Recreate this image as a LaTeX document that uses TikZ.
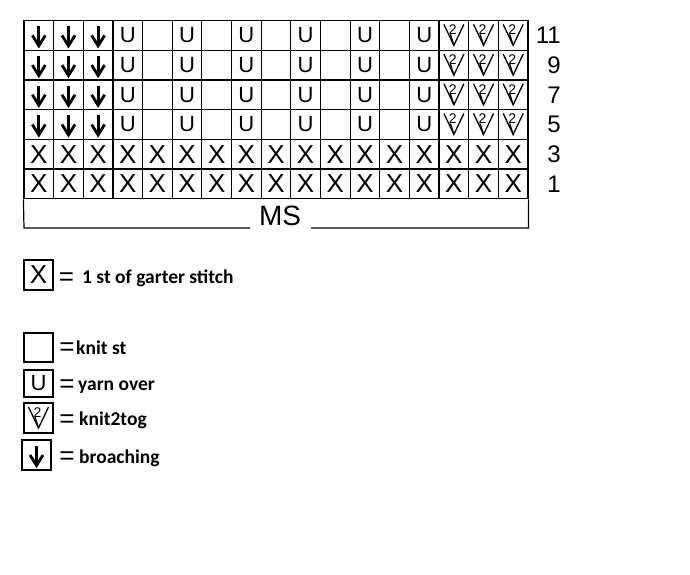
\documentclass[tikz,border=0pt]{standalone}
\usepackage{fontspec}
\setmainfont{Liberation Sans}
\newfontfamily\legendfont{Carlito}

\tikzset{
  cell/.style={draw, line width=1.2pt, minimum width=29.65pt, minimum height=29.7pt, inner sep=0pt},
  garter/.style={font=\fontsize{26}{26}\selectfont},
  yarnover/.style={font=\fontsize{22}{22}\selectfont},
  rowno/.style={anchor=east, inner sep=0pt, font=\fontsize{24}{24}\selectfont},
  eqsign/.style={inner sep=0pt, font=\fontsize{26}{26}\selectfont},
  legtext/.style={anchor=base west, inner sep=0pt, font=\legendfont\bfseries\fontsize{19.5}{19.5}\selectfont},
  broach/.pic={\draw[line width=2.8pt] (0,-9) -- (0,10);
    \draw[line width=2.8pt, line join=miter] (-6.5,0) -- (0,10.5) -- (6.5,0);},
  twotog/.pic={\draw[line width=1.3pt] (-10,-11) -- (0,10) -- (10,-11);
    \draw[line width=1.3pt] (-3.5,-1) -- (0,10);
    \node[inner sep=0pt, font=\fontsize{14}{14}\selectfont] at (-1,-5.5) {2};}
}

\begin{document}
\begin{tikzpicture}[x=1pt, y=-1pt]
\useasboundingbox (0,0) rectangle (690,574);

% chart grid and row numbers
\foreach \r/\n in {1/11, 2/9, 3/7, 4/5, 5/3, 6/1} {
  \foreach \c in {1,...,17}
    \node[cell] (c\r-\c) at ({24+29.647*(\c-0.5)}, {20.5+29.7*(\r-0.5)}) {};
  \node[rowno] (row\n) at (561, {20.5+29.7*(\r-0.5)}) {\n};
}

% stitches
\foreach \r in {1,...,4} {
  \foreach \c in {1,2,3} \pic at (c\r-\c) {broach};
  \foreach \c in {4,6,...,14} \node[yarnover] at (c\r-\c) {U};
  \foreach \c in {15,16,17} \pic at (c\r-\c) {twotog};
}
\foreach \r in {5,6}
  \foreach \c in {1,...,17} \node[garter] at (c\r-\c) {X};

% MS row
\coordinate (msl) at (24,228);
\coordinate (msa) at (250,228);
\coordinate (msb) at (311,228);
\coordinate (msr) at (528.5,228);
\node[anchor=base, inner sep=0pt, font=\fontsize{28}{28}\selectfont] (ms) at (280,225) {MS};
\draw[line width=1.2pt] (c6-1.south west) -- (msl) -- (msa);
\draw[line width=1.2pt] (msb) -- (msr) -- (c6-17.south east);

% legend
\node[cell, minimum width=29pt, minimum height=30pt, garter] (kX) at (38.5,275) {X};
\node[eqsign] (eX) at (66.5,279) {=};
\node[legtext] (tX) at (82,283) {1 st of garter stitch};

\node[cell, minimum width=29pt, minimum height=29pt] (kK) at (38.5,347.5) {};
\node[eqsign] (eK) at (67,349) {=};
\node[legtext] (tK) at (76,354) {knit st};

\node[cell, minimum width=29pt, minimum height=27pt, yarnover] (kU) at (38.5,383.5) {U};
\node[eqsign] (eU) at (67,386.5) {=};
\node[legtext] (tU) at (78,390) {yarn over};

\node[cell, minimum width=29pt, minimum height=30pt] (kV) at (38.5,418) {};
\pic at (kV) {twotog};
\node[eqsign] (eV) at (67,421.5) {=};
\node[legtext] (tV) at (79,425.5) {knit2tog};

\node[cell, minimum width=29pt, minimum height=30pt] (kA) at (36.5,455) {};
\pic at (kA) {broach};
\node[eqsign] (eA) at (67,458) {=};
\node[legtext] (tA) at (79,463.5) {broaching};
\end{tikzpicture}
\end{document}
